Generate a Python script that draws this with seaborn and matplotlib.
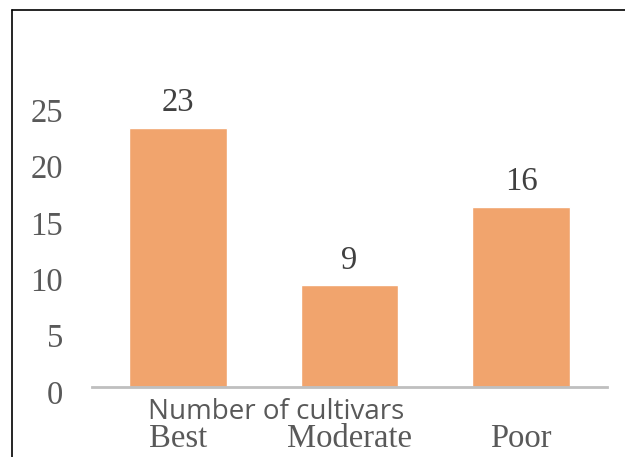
import matplotlib
matplotlib.use("Agg")
import matplotlib.pyplot as plt
import matplotlib.transforms as mtransforms
from matplotlib.lines import Line2D
import seaborn as sns
import pandas as pd

categories = ["Best", "Moderate", "Poor"]
values = [23, 9, 16]
yticks = [0, 5, 10, 15, 20, 25]
axis_title = "Number of cultivars"

sns.set_theme(style="white")
plt.rcParams['font.family'] = ['Liberation Serif', 'DejaVu Serif']

df = pd.DataFrame({"cat": categories, "val": values})

fig = plt.figure(figsize=(6.25, 4.57), dpi=100)
ax = fig.add_axes([92/625, 70/457, (607-92)/625, (387-105)/457])

sns.barplot(data=df, x="cat", y="val", color="#F1A46D", saturation=1,
            width=0.57, ax=ax)

ax.set_xlim(-0.5, 2.5)
ax.set_ylim(0, 25)
ax.set_yticks(yticks)
ax.set_yticklabels([str(t) for t in yticks])
ax.set_xlabel("")
ax.set_ylabel("")
for s in ["left", "right", "top"]:
    ax.spines[s].set_visible(False)
ax.spines["bottom"].set_color("#BFBFBF")
ax.spines["bottom"].set_linewidth(2)

ax.tick_params(axis="y", length=0, pad=21, labelsize=23.5, labelcolor="#595959")
ax.tick_params(axis="x", length=0, pad=26, labelsize=23.5, labelcolor="#595959")

offset = mtransforms.ScaledTranslation(0, -5/100, fig.dpi_scale_trans)
for lab in ax.get_yticklabels():
    lab.set_transform(lab.get_transform() + offset)

for i, v in enumerate(values):
    ax.annotate(str(v), (i, v), xytext=(0, 7), textcoords="offset points",
                ha="center", va="bottom", fontsize=23.5, color="#404040",
                annotation_clip=False)

fig.text(276/625, 1 - 412/457, axis_title, ha="center", va="center",
         fontsize=20, color="#595959", family=["Open Sans", "DejaVu Sans"])

fig.add_artist(Line2D([12/625, 1], [1 - 10/457, 1 - 10/457],
                      transform=fig.transFigure, color="black", lw=1.2))
fig.add_artist(Line2D([12/625, 12/625], [0, 1 - 10/457],
                      transform=fig.transFigure, color="black", lw=1.2))

fig.savefig("out.png", dpi=100)
